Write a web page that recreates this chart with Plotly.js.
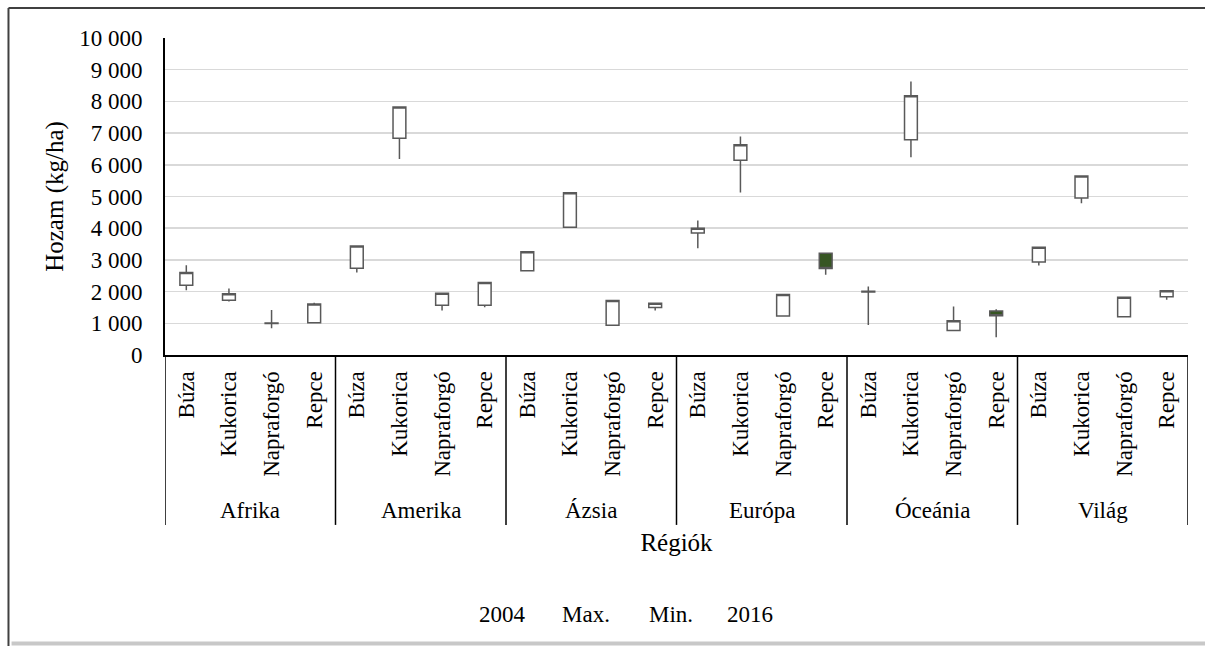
<!DOCTYPE html>
<html>
<head>
<meta charset="utf-8">
<script src="https://cdn.plot.ly/plotly-3.0.1.min.js"></script>
<style>
  html, body { margin: 0; padding: 0; background: #ffffff; }
  #chart { width: 1205px; height: 646px; }
</style>
</head>
<body>
<div id="chart"></div>
<script>
// ---- Data ----
const regions = ['Afrika', 'Amerika', 'Ázsia', 'Európa', 'Óceánia', 'Világ'];
const crops = ['Búza', 'Kukorica', 'Napraforgó', 'Repce'];
const seriesNames = ['2004', 'Max.', 'Min.', '2016'];

// order: region by region, crops Búza, Kukorica, Napraforgó, Repce
const y2004 = [2200, 1730, 990, 1020,   2740, 6840, 1570, 1570,   2660, 4030, 940, 1500,
               3850, 6140, 1230, 3210,  1990, 6790, 770, 1390,    2930, 4950, 1210, 1840];
const yMax  = [2830, 2100, 1420, 1650,  3450, 7830, 1960, 2300,   3270, 5130, 1730, 1640,
               4240, 6890, 1920, 3220,  2160, 8630, 1530, 1440,   3410, 5660, 1830, 2040];
const yMin  = [2040, 1690, 840, 1010,   2600, 6180, 1400, 1510,   2650, 4020, 930, 1400,
               3370, 5130, 1220, 2530,  950, 6240, 760, 560,      2820, 4790, 1200, 1740];
const y2016 = [2600, 1930, 1010, 1610,  3440, 7820, 1950, 2290,   3260, 5120, 1720, 1630,
               4000, 6630, 1910, 2730,  2010, 8180, 1080, 1240,   3400, 5650, 1820, 2030];

// ---- Derived category positions ----
const xIdx = [];
const xLabels = [];
regions.forEach((r, g) => crops.forEach((c, k) => { xIdx.push(g * crops.length + k); xLabels.push(c); }));

const FONT = '"Liberation Serif", "Times New Roman", Times, serif';
const nCat = xIdx.length;

const trace = {
  type: 'candlestick',
  x: xIdx,
  open: y2004,
  high: yMax,
  low: yMin,
  close: y2016,
  increasing: { line: { color: '#595959', width: 1.5 }, fillcolor: '#ffffff' },
  decreasing: { line: { color: '#595959', width: 1.5 }, fillcolor: '#375623' },
  whiskerwidth: 0,
  showlegend: false,
  hoverinfo: 'x+y'
};

// group dividers below the axis
const shapes = [];
for (let g = 0; g <= regions.length; g++) {
  const xv = g * crops.length - 0.5;
  shapes.push({ type: 'line', xref: 'x', yref: 'paper', x0: xv, x1: xv, y0: 0, y1: -0.536,
                line: { color: '#000000', width: 1.5 } });
}
// chart frame (top/left dark, bottom light shadow)
shapes.push({ type: 'line', xref: 'paper', yref: 'paper', x0: -0.153, x1: 1.03, y0: 1.095, y1: 1.095,
              line: { color: '#404040', width: 2 } });
shapes.push({ type: 'line', xref: 'paper', yref: 'paper', x0: -0.153, x1: -0.153, y0: 1.095, y1: -0.93,
              line: { color: '#404040', width: 2 } });
shapes.push({ type: 'line', xref: 'paper', yref: 'paper', x0: -0.15, x1: 1.03, y0: -0.91, y1: -0.91,
              line: { color: '#c8c8c8', width: 4 } });

const annotations = [];
regions.forEach((r, g) => {
  annotations.push({ xref: 'x', yref: 'paper', x: g * crops.length + (crops.length - 1) / 2, y: -0.49,
                     text: r, showarrow: false, xanchor: 'center', yanchor: 'middle',
                     font: { family: FONT, size: 23, color: '#000000' } });
});
// legend texts (series names only, as in the reference)
const legendStarts = [477, 560, 647, 725];
seriesNames.forEach((s, i) => {
  annotations.push({ xref: 'paper', yref: 'paper', x: (legendStarts[i] - 165) / 1023, y: -0.82,
                     text: s, showarrow: false, xanchor: 'left', yanchor: 'middle',
                     font: { family: FONT, size: 23, color: '#000000' } });
});

const layout = {
  width: 1205,
  height: 646,
  margin: { l: 165, r: 17, t: 38, b: 291 },
  paper_bgcolor: '#ffffff',
  plot_bgcolor: '#ffffff',
  separators: ', ',
  boxgap: 0.57,
  font: { family: FONT, size: 23, color: '#000000' },
  showlegend: false,
  xaxis: {
    type: 'linear',
    range: [-0.5, nCat - 0.5],
    tickmode: 'array',
    tickvals: xIdx,
    ticktext: xLabels,
    tickangle: -90,
    ticks: '',
    ticklabelstandoff: 5,
    showgrid: false,
    zeroline: false,
    showline: true,
    linecolor: '#000000',
    linewidth: 2,
    rangeslider: { visible: false },
    fixedrange: true,
    tickfont: { family: FONT, size: 23, color: '#000000' },
    title: { text: 'Régiók', font: { family: FONT, size: 25, color: '#000000' }, standoff: 58 }
  },
  yaxis: {
    range: [0, 10000],
    dtick: 1000,
    tick0: 0,
    tickformat: ',d',
    separatethousands: true,
    ticks: '',
    ticklabelstandoff: 16,
    showgrid: true,
    gridcolor: '#d9d9d9',
    gridwidth: 1.5,
    zeroline: false,
    showline: true,
    linecolor: '#000000',
    linewidth: 2,
    fixedrange: true,
    tickfont: { family: FONT, size: 23, color: '#000000' },
    title: { text: 'Hozam (kg/ha)', font: { family: FONT, size: 25, color: '#000000' }, standoff: 8 }
  },
  shapes: shapes,
  annotations: annotations
};

Plotly.newPlot('chart', [trace], layout, { displayModeBar: false, staticPlot: true });
</script>
</body>
</html>
